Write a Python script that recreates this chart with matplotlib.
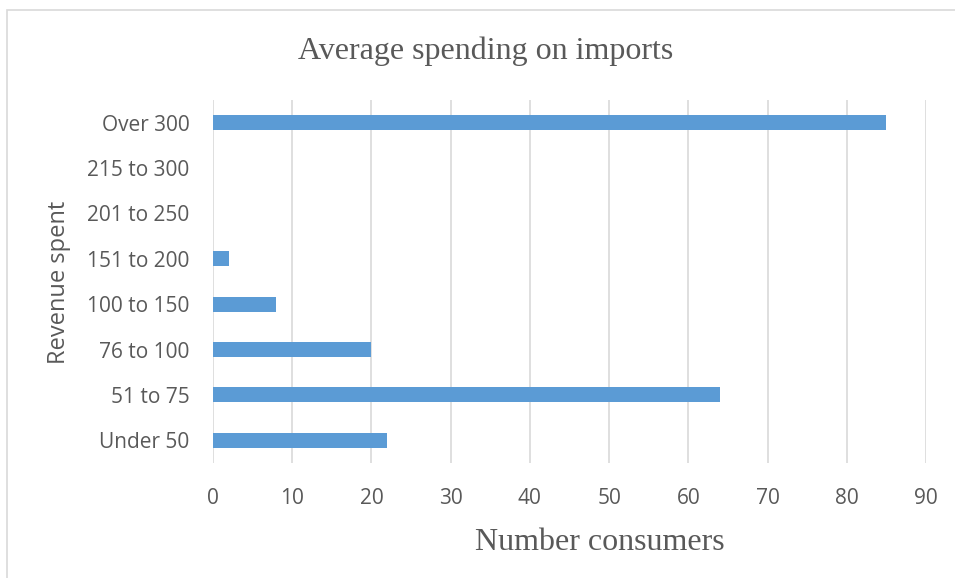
import matplotlib.pyplot as plt
from matplotlib.patches import Rectangle

categories = ["Under 50", "51 to 75", "76 to 100", "100 to 150",
              "151 to 200", "201 to 250", "215 to 300", "Over 300"]
consumers = [22, 64, 20, 8, 2, 0, 0, 85]
x_ticks = [0, 10, 20, 30, 40, 50, 60, 70, 80, 90]

fig = plt.figure(figsize=(9.55, 5.78), dpi=100)
ax = fig.add_axes([0.223, 0.199, 0.7466, 0.628])

# Rahmen um das Diagramm
fig.patches.append(Rectangle((7 / 955, -0.01), 1.0, 1 - 10 / 578 + 0.01,
                             transform=fig.transFigure, fill=False,
                             edgecolor="#D9D9D9", linewidth=1.2))

ax.barh(range(len(categories)), consumers, height=0.33, color="#5B9BD5", zorder=2)

ax.set_xlim(0, 90)
ax.set_ylim(-0.5, len(categories) - 0.5)
ax.set_xticks(x_ticks)
ax.set_yticks(range(len(categories)))
ax.set_yticklabels(categories)
ax.grid(axis="x", color="#D9D9D9", linewidth=1.2, zorder=0)
for s in ax.spines.values():
    s.set_visible(False)
ax.tick_params(length=0, labelsize=15, labelcolor="#595959")
ax.tick_params(axis="y", pad=17)
ax.tick_params(axis="x", pad=18)
for lab in ax.get_xticklabels() + ax.get_yticklabels():
    lab.set_family("Open Sans")

fig.text(0.509, 0.911, "Average spending on imports", ha="center", va="center",
         family="Liberation Serif", fontsize=23, color="#595959")
fig.text(0.628, 0.062, "Number consumers", ha="center", va="center",
         family="Liberation Serif", fontsize=23, color="#595959")
fig.text(0.062, 0.512, "Revenue spent", ha="center", va="center", rotation=90,
         family="Open Sans", fontsize=17, color="#595959")

fig.savefig("out.png", dpi=100)
